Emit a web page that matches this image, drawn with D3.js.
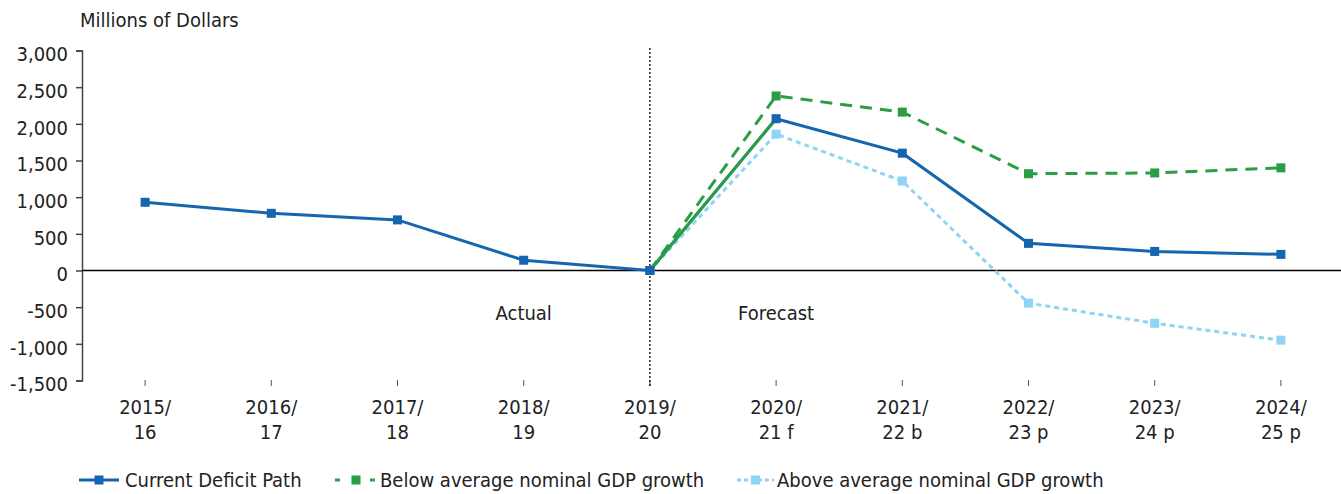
<!DOCTYPE html>
<html><head><meta charset="utf-8">
<script src="https://cdn.jsdelivr.net/npm/d3@7"></script>
<style>body{margin:0;background:#fff}svg{display:block}text{font-family:"DejaVu Sans Condensed","DejaVu Sans",sans-serif;fill:#222}</style>
</head><body>
<svg id="c" width="1341" height="494"></svg>
<script>
const categories = ["2015/|16","2016/|17","2017/|18","2018/|19","2019/|20","2020/|21 f","2021/|22 b","2022/|23 p","2023/|24 p","2024/|25 p"];
const currentPath = [930, 780, 690, 140, 0, 2070, 1600, 370, 260, 220];
const belowAvg = [null, null, null, null, 0, 2380, 2160, 1320, 1330, 1400];
const aboveAvg = [null, null, null, null, 0, 1860, 1220, -445, -720, -950];
const yTicks = [3000, 2500, 2000, 1500, 1000, 500, 0, -500, -1000, -1500];
const seriesNames = ["Current Deficit Path", "Below average nominal GDP growth", "Above average nominal GDP growth"];

const FS = "20px";
const svg = d3.select("#c");
const x = d3.scaleBand().domain(categories).range([82, 1344]);
const y = d3.scaleLinear().domain([-1500, 3000]).range([380.5, 50.5]);
const cx = d => x(d) + x.bandwidth() / 2;
const fmt = d3.format(",");

// y axis
const ya = svg.append("g").attr("transform", "translate(82,0)")
  .call(d3.axisLeft(y).tickValues(yTicks).tickSize(6).tickPadding(8).tickFormat(d => fmt(d).replace("\u2212", "-")));
ya.select(".domain").attr("stroke", "#444").attr("stroke-width", 1.5);
ya.selectAll(".tick line").attr("stroke", "#444").attr("stroke-width", 1.5);
ya.selectAll("text").style("font-size", FS).attr("fill", "#222").attr("dy", "0.52em");

svg.append("text").attr("x", 80).attr("y", 27).style("font-size", FS).text("Millions of Dollars");

// x axis ticks and labels
const xg = svg.append("g");
categories.forEach(c => {
  xg.append("line").attr("x1", cx(c)).attr("x2", cx(c)).attr("y1", 380).attr("y2", 386).attr("stroke", "#555").attr("stroke-width", 1);
  const parts = c.split("|");
  const t = xg.append("text").attr("text-anchor", "middle").style("font-size", FS);
  t.append("tspan").attr("x", cx(c)).attr("y", 414).text(parts[0]);
  t.append("tspan").attr("x", cx(c)).attr("y", 439).text(parts[1]);
});

// zero line
svg.append("line").attr("x1", 82).attr("x2", 1341).attr("y1", y(0)).attr("y2", y(0)).attr("stroke", "#000").attr("stroke-width", 1.5);

// divider
svg.append("line").attr("x1", cx(categories[4])).attr("x2", cx(categories[4])).attr("y1", 48).attr("y2", 386)
  .attr("stroke", "#000").attr("stroke-width", 1.3).attr("stroke-dasharray", "2,2");

svg.append("text").attr("x", cx(categories[3])).attr("y", 320).attr("text-anchor", "middle").style("font-size", FS).text("Actual");
svg.append("text").attr("x", cx(categories[5])).attr("y", 320).attr("text-anchor", "middle").style("font-size", FS).text("Forecast");

const colors = ["#1565b0", "#2a9d45", "#8ed5f5"];
const dashes = [null, "12,8", "5,4"];
const data = [currentPath, belowAvg, aboveAvg];
const line = d3.line().defined(d => d.v !== null).x(d => cx(d.c)).y(d => y(d.v));

// draw order: above, below, current
[2, 1, 0].forEach(i => {
  const pts = categories.map((c, j) => ({c, v: data[i][j]}));
  svg.append("path").datum(pts).attr("d", line).attr("fill", "none")
    .attr("stroke", colors[i]).attr("stroke-width", 3).attr("stroke-dasharray", dashes[i]);
  if (i === 0) {
    // first forecast segment of current path drawn in green
    svg.append("path").datum(pts.slice(4, 6)).attr("d", line).attr("fill", "none")
      .attr("stroke", colors[1]).attr("stroke-width", 3);
  }
  svg.append("g").selectAll("rect").data(pts.filter(d => d.v !== null)).join("rect")
    .attr("x", d => cx(d.c) - 4.5).attr("y", d => y(d.v) - 4.5).attr("width", 9).attr("height", 9)
    .attr("fill", colors[i]);
});

// legend
const leg = [
  {x0: 79, x1: 119, dash: null, tx: 125},
  {x0: 335, x1: 377, dash: "5,30", tx: 380},
  {x0: 737, x1: 774, dash: "4,3", tx: 777}
];
seriesNames.forEach((n, i) => {
  const L = leg[i];
  const g = svg.append("g");
  g.append("line").attr("x1", L.x0).attr("x2", L.x1).attr("y1", 480).attr("y2", 480)
    .attr("stroke", colors[i]).attr("stroke-width", 3).attr("stroke-dasharray", L.dash);
  const m = (L.x0 + L.x1) / 2;
  g.append("rect").attr("x", m - 4.5).attr("y", 475.5).attr("width", 9).attr("height", 9).attr("fill", colors[i]);
  g.append("text").attr("x", L.tx).attr("y", 487).style("font-size", FS).text(n);
});
</script>
</body></html>
